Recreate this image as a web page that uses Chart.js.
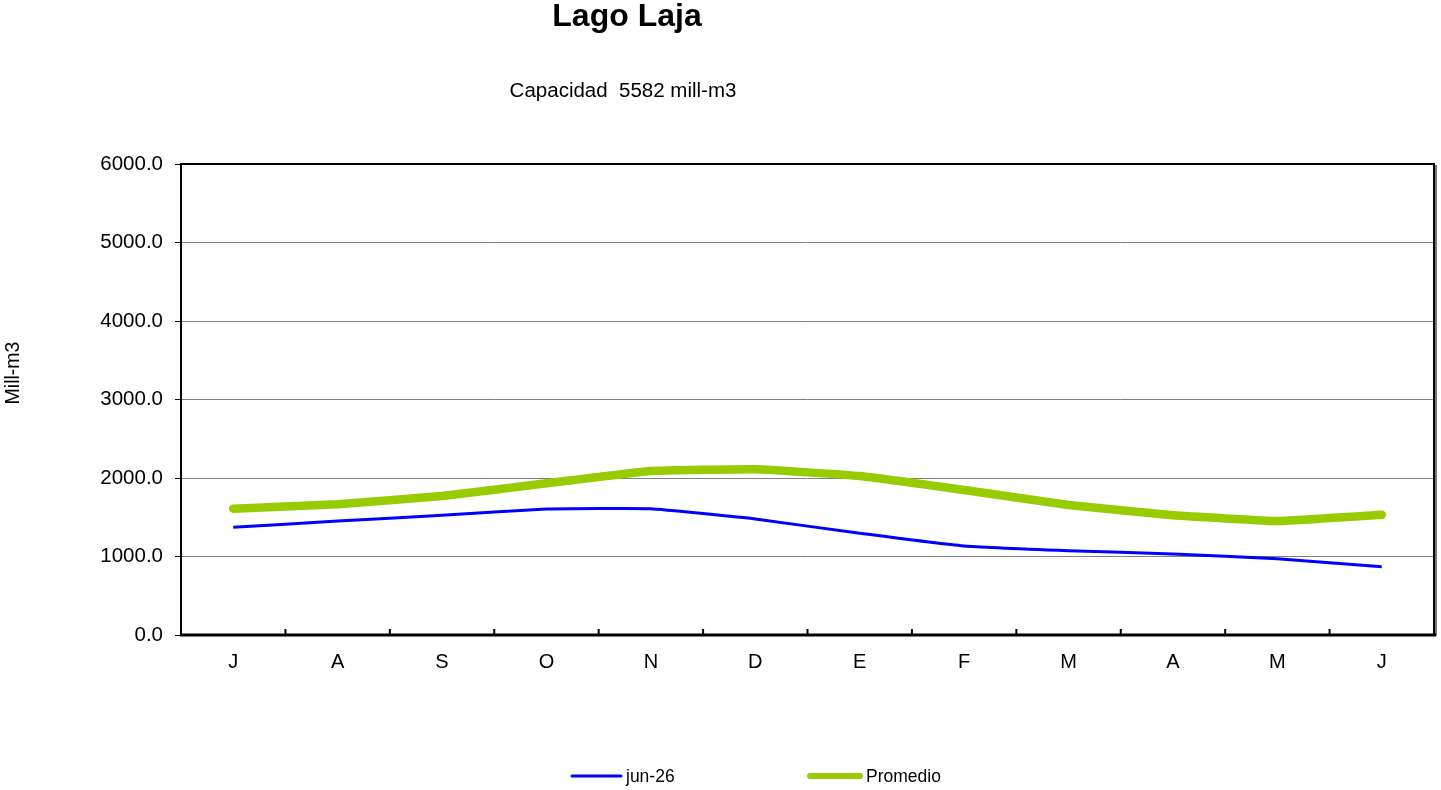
<!DOCTYPE html>
<html>
<head>
<meta charset="utf-8">
<script src="https://cdn.jsdelivr.net/npm/chart.js@4.4.1/dist/chart.umd.min.js"></script>
<style>
  html, body { margin: 0; padding: 0; background: #ffffff; }
  #wrap { position: relative; width: 1441px; height: 790px; }
</style>
</head>
<body>
<div id="wrap"><canvas id="c" width="1441" height="790"></canvas></div>
<script>
// ---- data ----
const categories = ['J', 'A', 'S', 'O', 'N', 'D', 'E', 'F', 'M', 'A', 'M', 'J'];
const serieActual = [1372, 1452, 1525, 1605, 1609, 1478, 1295, 1134, 1074, 1032, 972, 870];
const seriePromedio = [1609, 1665, 1771, 1932, 2089, 2111, 2025, 1847, 1656, 1525, 1452, 1533];
const labelActual = 'jun-26';
const labelPromedio = 'Promedio';
const yTicks = [0, 1000, 2000, 3000, 4000, 5000, 6000];
const titleText = 'Lago Laja';
const subtitleText = 'Capacidad  5582 mill-m3';
const yAxisTitle = 'Mill-m3';

const FONT = 'Liberation Sans, Arial, sans-serif';

const textPlugin = {
  id: 'texts',
  afterDraw(chart) {
    const ctx = chart.ctx;
    ctx.save();
    ctx.fillStyle = '#000';
    ctx.textBaseline = 'alphabetic';
    ctx.textAlign = 'center';
    ctx.font = 'bold 32px ' + FONT;
    ctx.fillText(titleText, 627, 26);
    ctx.font = '20.5px ' + FONT;
    ctx.fillText(subtitleText, 623, 97);
    // y axis title
    ctx.save();
    ctx.translate(19, 373);
    ctx.rotate(-Math.PI / 2);
    ctx.font = '19.5px ' + FONT;
    ctx.textBaseline = 'alphabetic';
    ctx.fillText(yAxisTitle, 0, 0);
    ctx.restore();
    // legend
    const items = [
      { ds: chart.data.datasets[0], x1: 572, x2: 621, tx: 626 },
      { ds: chart.data.datasets[1], x1: 810, x2: 860, tx: 866 }
    ];
    ctx.textAlign = 'left';
    ctx.textBaseline = 'middle';
    ctx.font = '17.5px ' + FONT;
    items.forEach(it => {
      ctx.strokeStyle = it.ds.borderColor;
      ctx.lineWidth = it.ds.borderWidth >= 8 ? 6 : 3;
      ctx.lineCap = 'round';
      ctx.beginPath();
      ctx.moveTo(it.x1, 776);
      ctx.lineTo(it.x2, 776);
      ctx.stroke();
      ctx.fillStyle = '#000';
      ctx.fillText(it.ds.label, it.tx, 777);
    });
    ctx.restore();
  }
};

const framePlugin = {
  id: 'frame',
  beforeDatasetsDraw(chart) {
    const { ctx, chartArea: a } = chart;
    ctx.save();
    // right shadow
    ctx.fillStyle = '#777';
    ctx.fillRect(a.right + 1, a.top + 1, 2, a.bottom - a.top);
    ctx.strokeStyle = '#000';
    ctx.lineWidth = 2;
    ctx.strokeRect(a.left, a.top, a.right - a.left, a.bottom - a.top);
    // inner tick marks on category axis
    const xs = chart.scales.x;
    ctx.lineWidth = 2;
    for (let i = 1; i < categories.length; i++) {
      const px = (xs.getPixelForTick(i - 1) + xs.getPixelForTick(i)) / 2;
      ctx.beginPath();
      ctx.moveTo(px, a.bottom);
      ctx.lineTo(px, a.bottom - 6);
      ctx.stroke();
    }
    // thicker bottom axis
    ctx.lineWidth = 3;
    ctx.beginPath();
    ctx.moveTo(a.left - 1, a.bottom);
    ctx.lineTo(a.right + 2, a.bottom);
    ctx.stroke();
    ctx.restore();
  }
};

new Chart(document.getElementById('c'), {
  type: 'line',
  data: {
    labels: categories,
    datasets: [
      {
        label: labelActual,
        data: serieActual,
        borderColor: '#0000FF',
        borderWidth: 3,
        pointRadius: 0,
        tension: 0.1,
        fill: false,
        order: 1
      },
      {
        label: labelPromedio,
        data: seriePromedio,
        borderColor: '#99CC00',
        borderWidth: 8.5,
        borderCapStyle: 'round',
        borderJoinStyle: 'round',
        pointRadius: 0,
        tension: 0.1,
        fill: false,
        order: 2
      }
    ]
  },
  options: {
    responsive: false,
    animation: false,
    devicePixelRatio: 1,
    layout: { padding: { left: 0, top: 164, right: 7, bottom: 0 } },
    plugins: { legend: { display: false }, title: { display: false }, tooltip: { enabled: false } },
    scales: {
      x: {
        type: 'category',
        offset: true,
        grid: { display: false, drawTicks: false },
        border: { display: false },
        ticks: {
          color: '#000',
          font: { family: FONT, size: 20 },
          padding: 15,
          maxRotation: 0,
          autoSkip: false
        },
        afterFit(scale) { scale.height = 155; }
      },
      y: {
        min: 0,
        max: 6000,
        afterBuildTicks(scale) { scale.ticks = yTicks.map(v => ({ value: v })); },
        grid: {
          color: '#808080',
          lineWidth: 1,
          tickLength: 6,
          tickColor: '#000',
          drawOnChartArea: true
        },
        border: { display: false },
        ticks: {
          color: '#000',
          font: { family: FONT, size: 20.5 },
          padding: 12,
          callback: v => Number(v).toFixed(1)
        },
        afterFit(scale) { scale.width = 181; }
      }
    }
  },
  plugins: [framePlugin, textPlugin]
});
</script>
</body>
</html>
